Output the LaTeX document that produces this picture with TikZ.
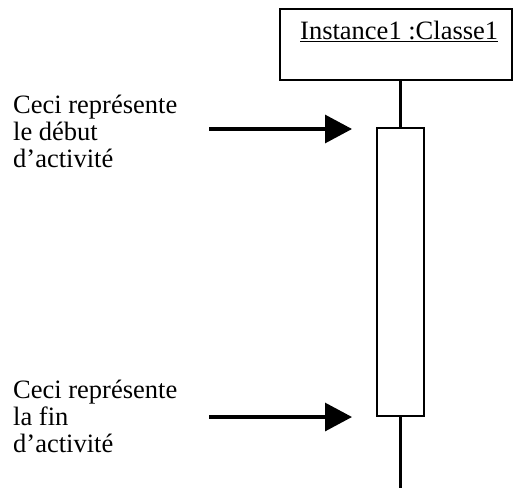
\documentclass[tikz,border=0pt]{standalone}
\usepackage{fontspec}
\setmainfont{Liberation Serif}
\usetikzlibrary{arrows.meta}
\begin{document}
\begin{tikzpicture}[x=1pt,y=-1pt,
  txt/.style={inner sep=0pt, font=\fontsize{26.5}{27}\selectfont},
  boxed/.style={draw, line width=2pt, inner sep=0pt},
  lifeline/.style={line width=2.2pt},
  pointer/.style={line width=3.2pt, -{Triangle[length=27pt,width=28pt]}}]
  \useasboundingbox (0,0) rectangle (513,488);
  % object instance header
  \node[boxed, minimum width=232pt, minimum height=71pt] (inst) at (396,44.5) {};
  \node[txt, anchor=base west] (instlabel) at (300,39) {\underline{Instance1 :Classe1}};
  % activation bar
  \node[boxed, minimum width=47pt, minimum height=288pt] (act) at (400.5,272) {};
  \coordinate (lifeend) at (400.5,488);
  \draw[lifeline] (inst.south -| act.north) -- (act.north);
  \draw[lifeline] (act.south) -- (lifeend);
  % annotations (anchored on the baseline of their last line)
  \node[txt, anchor=base west, align=left] (startnote) at (13,167)
    {Ceci représente\\le début\\d’activité};
  \node[txt, anchor=base west, align=left] (endnote) at (13,452)
    {Ceci représente\\la fin\\d’activité};
  \coordinate (starttail) at (209,129);
  \coordinate (starttip) at (352,129);
  \coordinate (endtail) at (209,417);
  \coordinate (endtip) at (352,417);
  \draw[pointer] (starttail) -- (starttip);
  \draw[pointer] (endtail) -- (endtip);
\end{tikzpicture}
\end{document}
